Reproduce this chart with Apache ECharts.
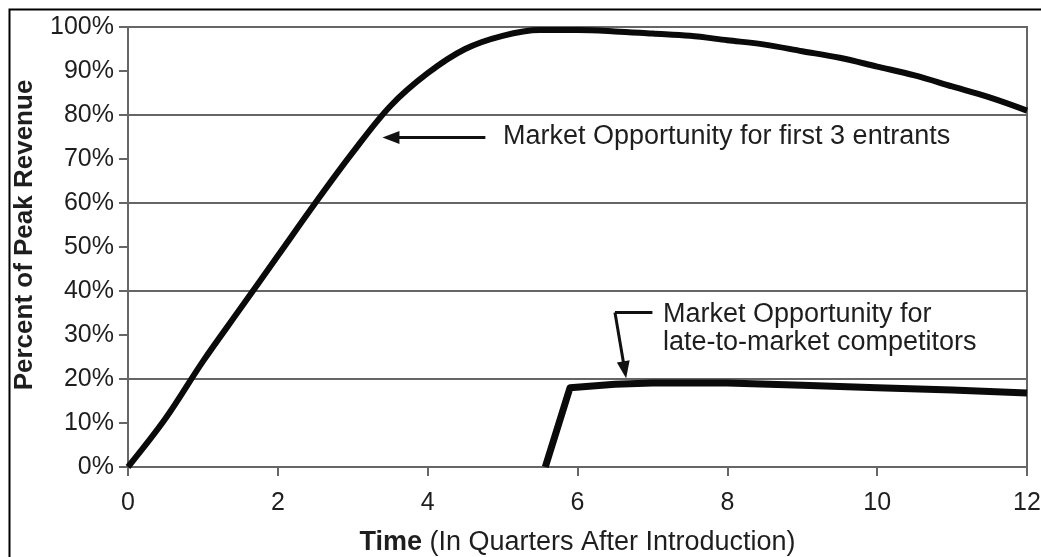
<!DOCTYPE html>
<html>
<head>
<meta charset="utf-8">
<script src="https://cdn.jsdelivr.net/npm/echarts@6/dist/echarts.min.js"></script>
<style>
  html, body { margin: 0; padding: 0; background: #fff; }
  #chart { width: 1041px; height: 557px; }
</style>
</head>
<body>
<div id="chart"></div>
<script>
// Quarters after introduction and percent of peak revenue
const leaderQuarters = [0, 0.5, 1, 1.5, 2, 2.5, 3, 3.5, 4, 4.5, 5, 5.5, 6, 6.5, 7, 7.5, 8, 8.5, 9, 9.5, 10, 10.5, 11, 11.5, 12];
const leaderRevenue  = [0, 11, 24, 36, 48, 60, 71.5, 82, 89.5, 95, 98, 99.3, 99.3, 99, 98.5, 98, 97, 96, 94.5, 93, 91, 89, 86.5, 84, 81];

const lateQuarters = [5.57, 5.9, 6.5, 7, 8, 9, 10, 11, 12];
const lateRevenue  = [0, 18, 18.8, 19.1, 19.1, 18.6, 18, 17.5, 16.8];

const xTicks = [0, 2, 4, 6, 8, 10, 12];
const yTicks = [0, 10, 20, 30, 40, 50, 60, 70, 80, 90, 100];

const leaderLabel = 'Market Opportunity for first 3 entrants';
const lateLabel = ['Market Opportunity for', 'late-to-market competitors'];
const yTitle = 'Percent of Peak Revenue';

const pair = (xs, ys) => xs.map((x, i) => [x, ys[i]]);

const chart = echarts.init(document.getElementById('chart'), null, { renderer: 'canvas' });

const GRAY = '#666';
const INK = '#1e1e1e';
const FONT = 'Liberation Sans, Arial, sans-serif';

chart.setOption({
  animation: false,
  backgroundColor: '#fff',
  grid: {
    left: 128, right: 14, top: 27, bottom: 90,
    outerBoundsMode: 'none', containLabel: false,
    show: true, borderColor: GRAY, borderWidth: 2, backgroundColor: 'transparent'
  },
  xAxis: {
    type: 'value', min: xTicks[0], max: xTicks[xTicks.length - 1], interval: 2,
    axisLine: { lineStyle: { color: GRAY, width: 2 } },
    axisTick: { show: true, length: 9, lineStyle: { color: GRAY, width: 2 } },
    axisLabel: {
      color: INK, fontSize: 25, fontFamily: FONT, margin: 24,
      formatter: v => xTicks.includes(v) ? String(v) : ''
    },
    splitLine: { show: false },
    name: '{b|Time} (In Quarters After Introduction)',
    nameLocation: 'middle', nameGap: 62,
    nameTextStyle: {
      color: INK, fontSize: 27, fontFamily: FONT,
      rich: { b: { fontWeight: 'bold', fontSize: 27, fontFamily: FONT, color: INK } }
    }
  },
  yAxis: [
    {
      type: 'value', min: 0, max: 100, interval: 10,
      axisLine: { show: true, lineStyle: { color: GRAY, width: 2 } },
      axisTick: { show: true, length: 9, lineStyle: { color: GRAY, width: 2 } },
      axisLabel: {
        color: INK, fontSize: 25, fontFamily: FONT, margin: 14,
        formatter: v => yTicks.includes(v) ? v + '%' : ''
      },
      splitLine: { show: false }
    },
    {
      type: 'value', min: 0, max: 100, interval: 20, position: 'left',
      axisLine: { show: false }, axisTick: { show: false }, axisLabel: { show: false },
      splitLine: { show: true, lineStyle: { color: GRAY, width: 2 } }
    }
  ],
  series: [
    {
      name: leaderLabel, type: 'line', data: pair(leaderQuarters, leaderRevenue),
      smooth: 0.35, showSymbol: false, symbol: 'none',
      lineStyle: { color: '#0a0a0a', width: 6 }, z: 5,
      markLine: {
        silent: true, symbol: ['none', 'triangle'], symbolSize: [13, 17],
        lineStyle: { color: '#111', width: 3, type: 'solid' },
        itemStyle: { color: '#111' },
        label: { show: false },
        data: [
          [{ coord: [4.77, 74.9] }, { coord: [3.51, 74.9] }]
        ]
      }
    },
    {
      name: lateLabel.join(' '), type: 'line', data: pair(lateQuarters, lateRevenue),
      smooth: false, showSymbol: false, symbol: 'none',
      lineStyle: { color: '#0a0a0a', width: 7, join: 'round' }, z: 5,
      markLine: {
        silent: true, symbol: ['none', 'none'],
        lineStyle: { color: '#111', width: 3, type: 'solid' },
        itemStyle: { color: '#111' },
        label: { show: false },
        data: [
          [{ coord: [7.0, 35.1] }, { coord: [6.5, 35.1] }],
          [{ coord: [6.5, 35.1], symbol: 'none' }, { coord: [6.63, 22.1], symbol: 'triangle', symbolSize: [13, 17] }]
        ]
      }
    }
  ],
  graphic: [
    {
      type: 'rect', left: 7, top: 7, silent: true,
      shape: { width: 1100, height: 600 },
      style: { fill: 'none', stroke: '#000', lineWidth: 2 }
    },
    {
      type: 'text', x: 25, y: 235, rotation: Math.PI / 2, silent: true,
      style: {
        text: yTitle, font: 'bold 26px ' + FONT, fill: INK,
        align: 'center', verticalAlign: 'middle'
      }
    },
    {
      type: 'text', left: 503, top: 123, silent: true,
      style: { text: leaderLabel, font: '27px ' + FONT, fill: INK }
    },
    {
      type: 'text', left: 663, top: 301, silent: true,
      style: { text: lateLabel.join('\n'), font: '27px ' + FONT, lineHeight: 28, fill: INK }
    }
  ]
});
</script>
</body>
</html>
